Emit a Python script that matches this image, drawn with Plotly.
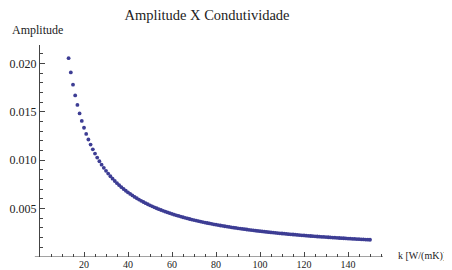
import plotly.graph_objects as go

k_values = list(range(13, 151))
amplitude = [
    0.020538, 0.019071, 0.017800, 0.016688, 0.015706, 0.014833, 0.014053, 0.013350,
    0.012714, 0.012136, 0.011609, 0.011125, 0.010680, 0.010269, 0.009889, 0.009536,
    0.009207, 0.008900, 0.008613, 0.008344, 0.008091, 0.007853, 0.007629, 0.007417,
    0.007216, 0.007026, 0.006846, 0.006675, 0.006512, 0.006357, 0.006209, 0.006068,
    0.005933, 0.005804, 0.005681, 0.005563, 0.005449, 0.005340, 0.005235, 0.005135,
    0.005038, 0.004944, 0.004855, 0.004768, 0.004684, 0.004603, 0.004525, 0.004450,
    0.004377, 0.004306, 0.004238, 0.004172, 0.004108, 0.004045, 0.003985, 0.003926,
    0.003870, 0.003814, 0.003761, 0.003708, 0.003658, 0.003608, 0.003560, 0.003513,
    0.003468, 0.003423, 0.003380, 0.003338, 0.003296, 0.003256, 0.003217, 0.003179,
    0.003141, 0.003105, 0.003069, 0.003034, 0.003000, 0.002967, 0.002934, 0.002902,
    0.002871, 0.002840, 0.002811, 0.002781, 0.002753, 0.002724, 0.002697, 0.002670,
    0.002644, 0.002618, 0.002592, 0.002567, 0.002543, 0.002519, 0.002495, 0.002472,
    0.002450, 0.002427, 0.002405, 0.002384, 0.002363, 0.002342, 0.002322, 0.002302,
    0.002282, 0.002263, 0.002244, 0.002225, 0.002207, 0.002189, 0.002171, 0.002153,
    0.002136, 0.002119, 0.002102, 0.002086, 0.002070, 0.002054, 0.002038, 0.002023,
    0.002008, 0.001993, 0.001978, 0.001963, 0.001949, 0.001935, 0.001921, 0.001907,
    0.001894, 0.001880, 0.001867, 0.001854, 0.001841, 0.001829, 0.001816, 0.001804,
    0.001792, 0.001780,
]
x_ticks = [20, 40, 60, 80, 100, 120, 140]
y_ticks = [0.005, 0.010, 0.015, 0.020]
y_tick_labels = ["0.005", "0.010", "0.015", "0.020"]

title_text = "Amplitude X Condutividade"
y_label = "Amplitude"
x_label = "k [W/(mK)]"

FONT = "Liberation Serif, Times New Roman, serif"

# the page body has an 8px default margin, so the figure is 8px smaller
W, H = 444, 262

fig = go.Figure(go.Scatter(
    x=k_values, y=amplitude, mode="markers",
    marker=dict(color="#3d3d94", size=3.8, line=dict(width=0)),
    hoverinfo="skip",
))

fig.update_layout(
    width=W, height=H,
    margin=dict(l=32, r=69, t=37, b=13, autoexpand=False),
    paper_bgcolor="white", plot_bgcolor="white",
    showlegend=False,
    font=dict(family=FONT, color="#222", size=12),
    title=dict(text=title_text, x=199 / W, xanchor="center",
               y=1 - 6.5 / H, yanchor="middle",
               font=dict(family=FONT, size=14.5, color="#222")),
    annotations=[
        dict(text=y_label, xref="paper", yref="paper", x=-0.007, y=1.07,
             xanchor="center", yanchor="middle", showarrow=False,
             font=dict(family=FONT, size=12, color="#222")),
        dict(text=x_label, xref="paper", yref="paper", x=1.038, y=0.005,
             xanchor="left", yanchor="middle", showarrow=False,
             font=dict(family=FONT, size=10, color="#222")),
    ],
)

fig.update_xaxes(
    range=[0, 155.9], showgrid=False, zeroline=False, automargin=False,
    showline=False,
    tickvals=x_ticks, ticks="inside", ticklen=5, tickcolor="#444", tickwidth=1,
    minor=dict(dtick=5, tick0=0, ticks="inside", ticklen=3, tickcolor="#444", tickwidth=1),
    tickfont=dict(family=FONT, size=10, color="#222"),
)
fig.update_yaxes(
    range=[0, 0.0219], showgrid=False, zeroline=False, automargin=False,
    showline=True, linecolor="#444", linewidth=1,
    tickvals=y_ticks, ticktext=y_tick_labels, ticks="inside", ticklen=5,
    tickcolor="#444", tickwidth=1,
    minor=dict(dtick=0.001, tick0=0, ticks="inside", ticklen=3, tickcolor="#444", tickwidth=1),
    tickfont=dict(family=FONT, size=12, color="#222"),
)

# x-axis line drawn at y=0 (Mathematica-style crossing axes)
fig.add_shape(type="line", xref="paper", yref="y", x0=-0.015, x1=1, y0=0, y1=0,
              line=dict(color="#444", width=1))

fig.write_html("out.html")
